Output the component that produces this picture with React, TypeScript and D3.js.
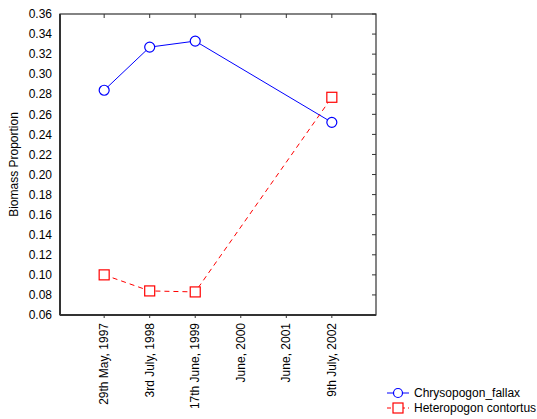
import { useEffect, useRef } from 'react'
import * as d3 from 'd3'

const dates = ['29th May, 1997', '3rd July, 1998', '17th June, 1999', 'June, 2000', 'June, 2001', '9th July, 2002']
const yTicks = [0.06, 0.08, 0.1, 0.12, 0.14, 0.16, 0.18, 0.2, 0.22, 0.24, 0.26, 0.28, 0.3, 0.32, 0.34, 0.36]

const chrysoDates = ['29th May, 1997', '3rd July, 1998', '17th June, 1999', '9th July, 2002']
const chrysoValues = [0.284, 0.327, 0.333, 0.252]
const heteroDates = ['29th May, 1997', '3rd July, 1998', '17th June, 1999', '9th July, 2002']
const heteroValues = [0.1, 0.084, 0.083, 0.277]

export default function App() {
  const svgRef = useRef<SVGSVGElement>(null)
  const width = 537
  const height = 419

  useEffect(() => {
    if (!svgRef.current) return
    const svg = d3.select(svgRef.current)
    svg.selectAll('*').remove()

    const left = 60, right = 376, top = 14, bottom = 315
    const font = 'Liberation Sans, Arial, sans-serif'
    const fs = 12
    const axisColor = '#333'

    const x = d3.scalePoint<string>().domain(dates).range([left, right]).padding(0.97)
    const y = d3.scaleLinear().domain([0.06, 0.36]).range([bottom, top])

    // frame
    svg.append('rect')
      .attr('x', left).attr('y', top)
      .attr('width', right - left).attr('height', bottom - top)
      .attr('fill', 'none').attr('stroke', axisColor).attr('stroke-width', 1.2)
    svg.append('line')
      .attr('x1', left).attr('x2', left).attr('y1', top).attr('y2', bottom)
      .attr('stroke', axisColor).attr('stroke-width', 2)
    svg.append('line')
      .attr('x1', left).attr('x2', right).attr('y1', bottom).attr('y2', bottom)
      .attr('stroke', axisColor).attr('stroke-width', 2)

    // y tick labels + right inner ticks
    yTicks.forEach(t => {
      svg.append('text')
        .attr('x', 52).attr('y', y(t)).attr('dy', '0.35em')
        .attr('text-anchor', 'end')
        .attr('font-family', font).attr('font-size', fs).attr('fill', '#000')
        .text(t.toFixed(2))
      svg.append('line')
        .attr('x1', right - 4).attr('x2', right).attr('y1', y(t)).attr('y2', y(t))
        .attr('stroke', axisColor).attr('stroke-width', 1)
    })

    // x ticks and labels
    dates.forEach(d => {
      const px = x(d) as number
      svg.append('line')
        .attr('x1', px).attr('x2', px).attr('y1', top).attr('y2', top + 4)
        .attr('stroke', axisColor).attr('stroke-width', 1)
      svg.append('line')
        .attr('x1', px).attr('x2', px).attr('y1', bottom).attr('y2', bottom + 3)
        .attr('stroke', axisColor).attr('stroke-width', 1)
      svg.append('text')
        .attr('transform', `translate(${px + 4},323) rotate(-90)`)
        .attr('text-anchor', 'end')
        .attr('font-family', font).attr('font-size', fs).attr('fill', '#000')
        .text(d)
    })

    // y label
    svg.append('text')
      .attr('transform', `translate(18,${(top + bottom) / 2}) rotate(-90)`)
      .attr('text-anchor', 'middle')
      .attr('font-family', font).attr('font-size', fs).attr('fill', '#000')
      .text('Biomass Proportion')

    const line = d3.line<[string, number]>().x(d => x(d[0]) as number).y(d => y(d[1]))
    const chryso: [string, number][] = chrysoDates.map((d, i) => [d, chrysoValues[i]])
    const hetero: [string, number][] = heteroDates.map((d, i) => [d, heteroValues[i]])

    svg.append('path').datum(chryso).attr('d', line)
      .attr('fill', 'none').attr('stroke', '#0000ff').attr('stroke-width', 1)
    svg.append('path').datum(hetero).attr('d', line)
      .attr('fill', 'none').attr('stroke', '#ff0000').attr('stroke-width', 1)
      .attr('stroke-dasharray', '5,4')

    svg.selectAll('.c').data(chryso).enter().append('circle')
      .attr('cx', d => x(d[0]) as number).attr('cy', d => y(d[1])).attr('r', 5)
      .attr('fill', '#fff').attr('stroke', '#0000ff').attr('stroke-width', 1.2)
    svg.selectAll('.s').data(hetero).enter().append('rect')
      .attr('x', d => (x(d[0]) as number) - 5).attr('y', d => y(d[1]) - 5)
      .attr('width', 10).attr('height', 10)
      .attr('fill', '#fff').attr('stroke', '#ff0000').attr('stroke-width', 1.2)

    // legend
    const lg = svg.append('g').attr('transform', 'translate(387,0)')
    lg.append('line').attr('x1', 0).attr('x2', 22).attr('y1', 393).attr('y2', 393)
      .attr('stroke', '#0000ff').attr('stroke-width', 1)
    lg.append('circle').attr('cx', 11).attr('cy', 393).attr('r', 4.5)
      .attr('fill', '#fff').attr('stroke', '#0000ff').attr('stroke-width', 1.2)
    lg.append('text').attr('x', 27).attr('y', 393).attr('dy', '0.35em')
      .attr('font-family', font).attr('font-size', fs).attr('fill', '#000')
      .text('Chrysopogon_fallax')
    lg.append('line').attr('x1', 0).attr('x2', 22).attr('y1', 408).attr('y2', 408)
      .attr('stroke', '#ff0000').attr('stroke-width', 1).attr('stroke-dasharray', '4,3')
    lg.append('rect').attr('x', 6).attr('y', 403).attr('width', 10).attr('height', 10)
      .attr('fill', '#fff').attr('stroke', '#ff0000').attr('stroke-width', 1.2)
    lg.append('text').attr('x', 27).attr('y', 408).attr('dy', '0.35em')
      .attr('font-family', font).attr('font-size', fs).attr('fill', '#000')
      .text('Heteropogon contortus')
  }, [])

  return (
    <svg ref={svgRef} width={width} height={height}
      style={{ position: 'absolute', left: 0, top: 0, background: '#fff' }} />
  )
}
